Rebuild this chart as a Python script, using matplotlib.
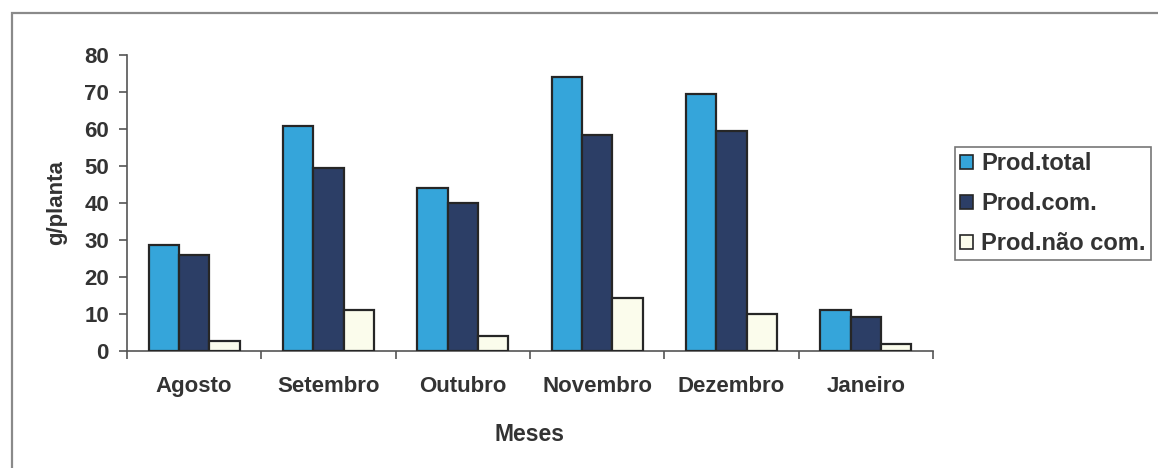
import matplotlib.pyplot as plt
import matplotlib.patches as mpatches
import numpy as np

months = ["Agosto", "Setembro", "Outubro", "Novembro", "Dezembro", "Janeiro"]
series_names = ["Prod.total", "Prod.com.", "Prod.não com."]
prod_total = [28.6, 60.8, 44.1, 74.1, 69.5, 11.1]
prod_com = [25.9, 49.5, 40.1, 58.4, 59.5, 9.3]
prod_nao_com = [2.7, 11.1, 4.1, 14.4, 10.0, 1.8]
y_ticks = [0, 10, 20, 30, 40, 50, 60, 70, 80]

colors = ["#35A5DA", "#2C3E66", "#FBFCEC"]
text_color = "#333333"
fs = 16

plt.rcParams["font.family"] = ["Liberation Sans", "DejaVu Sans"]
plt.rcParams["font.weight"] = "bold"

W, H = 1158, 468
fig = plt.figure(figsize=(W / 100, H / 100), dpi=100)
fig.patch.set_facecolor("white")

# outer chart-area frame (runs off the right and bottom edges)
frame = mpatches.Rectangle((11.5 / W, -0.05), 1.2, 1 - 12.5 / H + 0.05,
                           transform=fig.transFigure, fill=False,
                           edgecolor="#8a8a8a", linewidth=1.6, zorder=0)
fig.add_artist(frame)

ax = fig.add_axes([127 / W, 1 - 351 / H, (933 - 127) / W, (351 - 55) / H])
ax.set_facecolor("none")

x = np.arange(len(months))
width = 0.225
for i, (vals, name) in enumerate(zip([prod_total, prod_com, prod_nao_com], series_names)):
    ax.bar(x + (i - 1) * width, vals, width, color=colors[i], edgecolor="#262626",
           linewidth=1.6, label=name, zorder=3)

ax.set_xlim(-0.5, len(months) - 0.5)
ax.set_ylim(0, 80)
ax.set_yticks(y_ticks)
ax.set_xticks(x)
ax.set_xticklabels(months)
ax.set_xticks(np.arange(len(months) + 1) - 0.5, minor=True)
ax.tick_params(axis="x", which="major", length=0, pad=18, labelsize=fs, labelcolor=text_color)
ax.tick_params(axis="x", which="minor", length=6, width=1.2, color="#555555", direction="out")
ax.tick_params(axis="y", length=6, width=1.2, color="#555555", labelsize=fs,
               labelcolor=text_color, pad=7)
for lab in ax.get_xticklabels() + ax.get_yticklabels():
    lab.set_fontweight("bold")

for s in ["top", "right"]:
    ax.spines[s].set_visible(False)
for s in ["left", "bottom"]:
    ax.spines[s].set_color("#555555")
    ax.spines[s].set_linewidth(1.2)

ax.set_xlabel("Meses", fontsize=fs + 0.5, fontweight="bold", color=text_color, labelpad=19)
ax.set_ylabel("g/planta", fontsize=fs, fontweight="bold", color=text_color, labelpad=12)

leg = fig.legend(loc="upper left", bbox_to_anchor=(955 / W, 1 - 147 / H),
                 borderaxespad=0, fancybox=False, frameon=True, fontsize=fs + 1,
                 handlelength=0.55, handleheight=0.55, handletextpad=0.35,
                 labelspacing=0.72, borderpad=0.22)
leg.get_frame().set_edgecolor("#555555")
leg.get_frame().set_linewidth(1.2)
for t in leg.get_texts():
    t.set_color(text_color)
    t.set_fontweight("bold")
for h in leg.legend_handles:
    h.set_linewidth(1.2)

fig.savefig("out.png", dpi=100)
